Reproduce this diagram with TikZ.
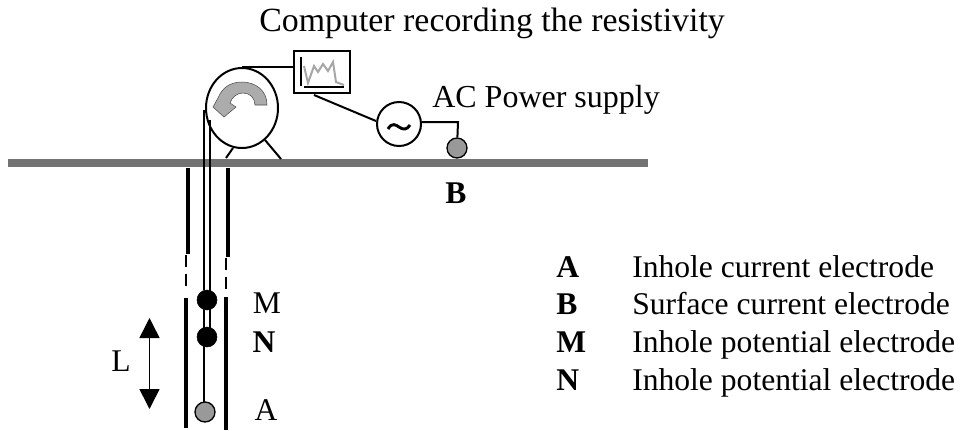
\documentclass[tikz,border=0pt]{standalone}
\usepackage{fontspec}
\setmainfont{Liberation Serif}
\usetikzlibrary{arrows.meta, shapes.geometric}
\tikzstyle{label} = [inner sep=0pt, font=\fontsize{23.7}{26}\selectfont]
\tikzstyle{legend} = [inner sep=0pt, anchor=base west, font=\fontsize{23.7}{26}\selectfont]
\tikzstyle{heavy} = [font=\fontsize{23.7}{26}\selectfont\bfseries]
\tikzstyle{wire} = [line width=1.5pt]
\tikzstyle{wall} = [line width=3pt]
\tikzstyle{dark} = [circle, draw=black, fill=black, minimum size=15pt, inner sep=0pt]
\tikzstyle{electrode} = [circle, draw=black, fill=gray!80, line width=1pt, minimum size=15pt, inner sep=0pt]
\tikzstyle{arrow} = [line width=1.2pt,{Triangle[length=15pt,width=15pt]}-{Triangle[length=15pt,width=15pt]}]
\begin{document}
\begin{tikzpicture}[x=0.75pt,y=-0.75pt]
	\useasboundingbox (0,0) rectangle (961,430);
	% surface
	\fill [gray!90!black] (8,159) rectangle (648,167);
	% winch
	\node (wheel) [ellipse, draw=black, line width=1.5pt, minimum width=54pt, minimum height=60pt, inner sep=0pt] at (242,108) {};
	\draw [wire] (233,148) -- (226,158);
	\draw [wire] (265,140) -- (281,159);
	\fill [gray!65, draw=black!70] (267,105) .. controls (267,90) and (255,82) .. (242,82) .. controls (230,82) and (222,88) .. (218,98) -- (213,107) -- (224,117) -- (236,107) -- (230,103) .. controls (232,97) and (237,93) .. (243,93) .. controls (250,93) and (255,98) .. (255,105) -- cycle;
	% recorder
	\node (recorder) [rectangle, draw=black, line width=2pt, minimum width=42pt, minimum height=31.5pt, inner sep=0pt] at (322,72) {};
	\draw [line width=1.5pt] (301,57) -- (301,86);
	\draw [line width=1.5pt] (304,87) -- (344,87);
	\draw [gray!70, line width=1.5pt] (304,66) -- (308,83) -- (314,66) -- (318,72) -- (323,64) -- (328,71) -- (333,62) -- (336,82) -- (344,85);
	\draw [wire] (wheel.north) -- (recorder.west |- wheel.north);
	% power supply
	\node (source) [circle, draw=black, line width=1.5pt, minimum size=33pt, inner sep=0pt] at (399,124) {};
	\draw [line width=2.2pt] (388,129) .. controls (392,122) and (396,125) .. (399,127) .. controls (403,130) and (407,130) .. (410,125);
	\coordinate (cor) at (458,122);
	\node (B) [electrode] at (457,148) {};
	\coordinate (rec) at (314,95);
	\draw [wire] (rec) -- (source.west |- 0,121);
	\draw [wire] (source.east |- cor) -- (cor) -- (B);
	% hole
	\draw [wall] (188,168) -- (188,254);
	\draw [wall] (228,168) -- (228,257);
	\draw [line width=1.5pt, dash pattern=on 9pt off 5pt] (186,255) -- (186,292);
	\draw [line width=1.5pt, dash pattern=on 9pt off 5pt] (226,258) -- (226,292);
	\draw [wall] (186,298) -- (186,428);
	\draw [wall] (226,297) -- (226,430);
	% electrodes
	\node (M) [dark] at (207,300) {};
	\node (N) [dark] at (207,337) {};
	\node (A) [electrode] at (205,412) {};
	\draw [wire] (204,110) -- (204,290);
	\draw [wire] (210,120) -- (210,292);
	\draw [wire] (204,300) -- (204,337);
	\draw [wire] (210,300) -- (210,337);
	\draw [wire] (204,337) -- (204,402);
	% length
	\coordinate (top) at (149.5,318);
	\coordinate (bot) at (149.5,409);
	\draw [arrow] (top) -- (bot);
	% labels
	\node (title) [label, anchor=base west, font=\fontsize{25.4}{27}\selectfont] at (259,31) {Computer recording the resistivity};
	\node (ac) [label, anchor=base west, font=\fontsize{24}{26}\selectfont] at (432,107) {AC Power supply};
	\node (bl) [label, heavy] at (456,193) {B};
	\node (ml) [label] at (267,303) {M};
	\node (nl) [label, heavy] at (264,342) {N};
	\node (al) [label] at (266,410) {A};
	\node (ll) [label] at (121,361) {L};
	% legend
	\node (a1) [legend, heavy] at (556,277) {A};
	\node (a2) [legend] at (632,277) {Inhole current electrode};
	\node (b1) [legend, heavy] at (556,314) {B};
	\node (b2) [legend] at (632,314) {Surface current electrode};
	\node (m1) [legend, heavy] at (556,352) {M};
	\node (m2) [legend] at (632,352) {Inhole potential electrode};
	\node (n1) [legend, heavy] at (556,390) {N};
	\node (n2) [legend] at (632,390) {Inhole potential electrode};
\end{tikzpicture}
\end{document}
